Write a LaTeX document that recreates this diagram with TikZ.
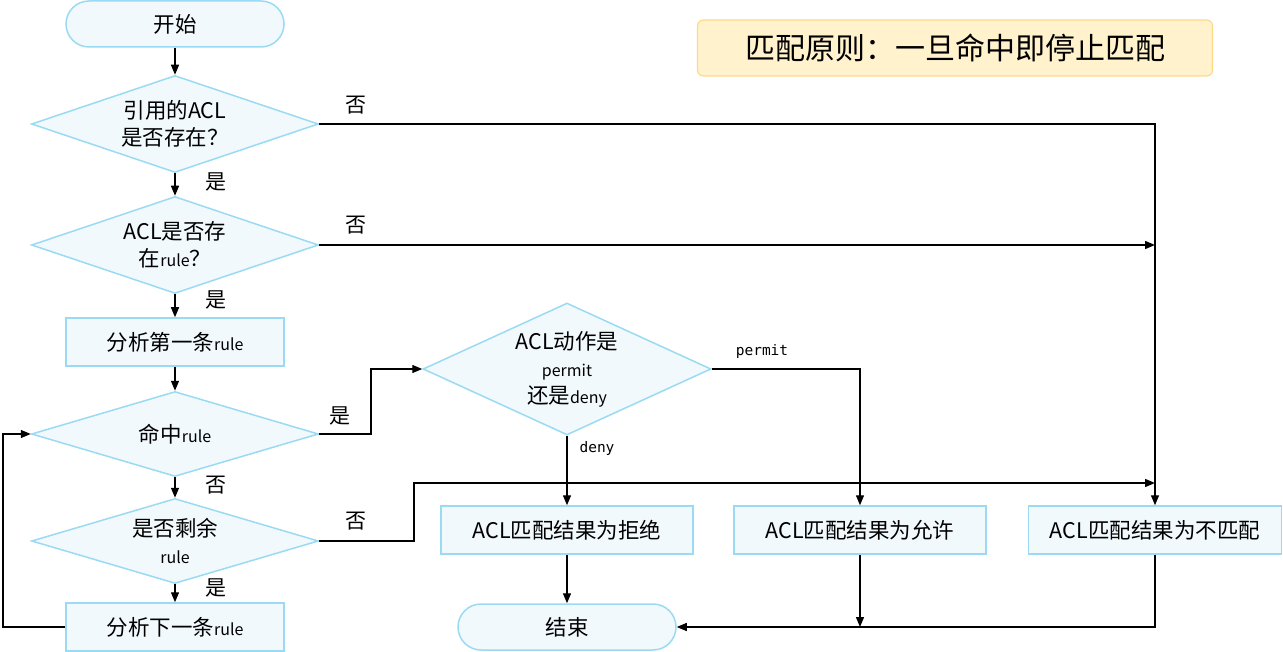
\documentclass[tikz,border=0pt]{standalone}
\usepackage{fontspec}
\setmainfont{Noto Sans CJK SC}
\newfontfamily\monofont{DejaVu Sans Mono}
\usetikzlibrary{shapes.geometric,arrows.meta}
\definecolor{boxfill}{HTML}{F1F9FD}
\definecolor{boxline}{HTML}{9ADAF3}
\definecolor{notefill}{HTML}{FFF2CC}
\definecolor{noteline}{HTML}{FFD98A}
\newcommand\smlat[1]{{\fontsize{16}{19}\selectfont #1}}
\begin{document}
\begin{tikzpicture}[x=1pt,y=-1pt,line width=1.4pt,>={Triangle[length=10pt,width=8pt]},
  base/.style={draw=boxline,fill=boxfill,line width=1.5pt,font=\fontsize{21.5}{27}\selectfont,align=center},
  term/.style={base,rounded corners=23pt,minimum width=218pt,minimum height=46pt},
  proc/.style={base,minimum width=218pt,minimum height=48pt},
  result/.style={base,minimum width=252pt,minimum height=48pt},
  decide/.style={base,shape=diamond,aspect=3,inner sep=0pt,minimum width=287pt,minimum height=97pt},
  lbl/.style={font=\fontsize{21}{24}\selectfont},
  tag/.style={font=\monofont\fontsize{14.5}{17}\selectfont}]
\useasboundingbox (0,0) rectangle (1283,652);

% left column
\node[term] (start) at (175,24) {开始};
\node[decide] (ref) at (175,124) {引用的ACL\\是否存在？};
\node[decide] (has) at (175,245) {ACL是否存\\在\smlat{rule}？};
\node[proc] (first) at (175,342) {分析第一条\smlat{rule}};
\node[decide,minimum height=85pt] (hit) at (175,434) {命中\smlat{rule}};
\node[decide,minimum height=85pt] (left) at (175,541) {是否剩余\\\smlat{rule}};
\node[proc] (next) at (175,627) {分析下一条\smlat{rule}};

% action and results
\node[decide,aspect=2.2,minimum width=288pt,minimum height=132pt] (act) at (567,369)
  {ACL动作是\\\smlat{permit}\\还是\smlat{deny}};
\node[result] (deny) at (567,530) {ACL匹配结果为拒绝};
\node[result] (permit) at (860,530) {ACL匹配结果为允许};
\node[result,minimum width=253pt] (nomatch) at (1155,530) {ACL匹配结果为不匹配};
\node[term] (stop) at (567,627) {结束};

\node[draw=noteline,fill=notefill,line width=1.2pt,rounded corners=6pt,minimum width=515pt,minimum height=56pt,
  font=\fontsize{30}{34}\selectfont] (rule) at (955,48) {匹配原则：一旦命中即停止匹配};

% connectors
\draw[->] (start) -- (ref);
\draw[->] (ref) -- (has);
\draw[->] (has) -- (first);
\draw[->] (first) -- (hit);
\draw[->] (hit) -- (left);
\draw[->] (left) -- (next);
\draw[->] (next.west) -- (3,627) -- (3,434) -- (hit.west);
\draw[->] (hit.east) -- (371,434) -- (371,369) -- (act.west);
\draw[->] (ref.east) -- (1155,124) -- (nomatch.north);
\draw[->] (has.east) -- (1155,245);
\draw[->] (left.east) -- (414,541) -- (414,483) -- (1155,483);
\draw[->] (act.east) -- (860,369) -- (permit.north);
\draw[->] (act.south) -- (deny.north);
\draw[->] (deny) -- (stop);
\draw[->] (permit.south) -- (860,627);
\draw[->] (nomatch.south) -- (1155,627) -- (stop.east);

% labels
\node[lbl] (l1) at (216,182) {是};
\node[lbl] (l2) at (216,300) {是};
\node[lbl] (l3) at (216,485) {否};
\node[lbl] (l4) at (216,588) {是};
\node[lbl] (l5) at (356,105) {否};
\node[lbl] (l6) at (356,225) {否};
\node[lbl] (l7) at (340,416) {是};
\node[lbl] (l8) at (356,521) {否};
\node[tag] (l9) at (762,351) {permit};
\node[tag] (l10) at (597,448) {deny};
\end{tikzpicture}
\end{document}
